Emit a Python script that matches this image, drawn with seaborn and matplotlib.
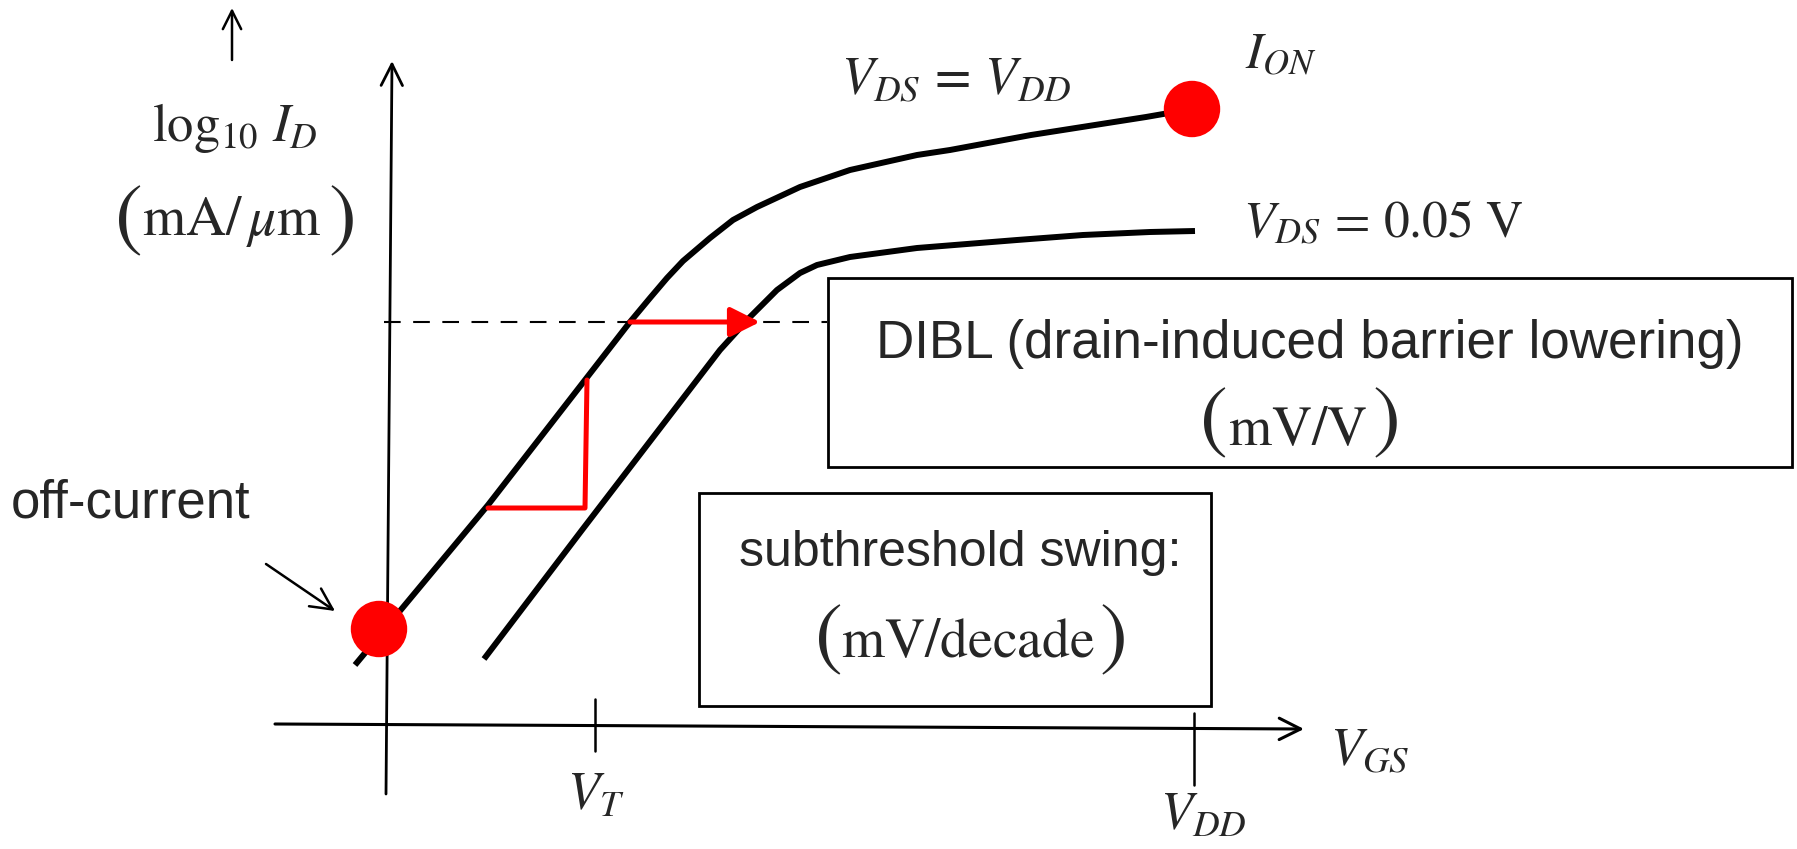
import matplotlib
matplotlib.use("Agg")
import matplotlib.pyplot as plt
from matplotlib.patches import Rectangle
import seaborn as sns

# curve points (picture pixel space, y grows downwards)
vgs_vdd = [355, 488, 585, 630, 650, 667, 683, 710, 733, 757, 800, 850, 917, 950, 1031, 1146, 1192]
logid_vdd = [665, 505, 380, 322, 298, 278, 261, 238, 220, 207, 187, 170, 155, 150, 135, 117, 109]

vgs_low = [484, 582, 720, 750, 777, 800, 817, 850, 917, 1017, 1083, 1150, 1195]
logid_low = [659, 530, 350, 317, 290, 273, 265, 257, 248, 240, 235, 232, 231]

# marked points: off-current and I_ON
dot_x = [379, 1192]
dot_y = [629, 109]

# subthreshold swing triangle and DIBL shift
swing_x = [488, 585, 587]
swing_y = [508, 508, 380]
dibl_y = 322
dibl_from, dibl_to = 630, 760

# tick positions on V_GS axis
vt_x = 595
vdd_x = 1194

sns.set_theme(style="white")
plt.rcParams["font.family"] = ["Liberation Sans", "DejaVu Sans"]
plt.rcParams["mathtext.fontset"] = "stix"

fig = plt.figure(figsize=(17.97, 8.49), dpi=100)
ax = fig.add_axes([0, 0, 1, 1])
ax.set_xlim(0, 1797)
ax.set_ylim(849, 0)
ax.axis("off")

arrow_kw = dict(color="black", mutation_scale=22, shrinkA=0, shrinkB=0)

# axes arrows
ax.annotate("", xy=(1304, 729), xytext=(275, 724),
            arrowprops=dict(arrowstyle="->,head_length=0.7,head_width=0.35", lw=2.2, **arrow_kw))
ax.annotate("", xy=(392, 61), xytext=(386, 794),
            arrowprops=dict(arrowstyle="->,head_length=0.7,head_width=0.35", lw=2.0, **arrow_kw))
ax.annotate("", xy=(232, 8), xytext=(232, 60),
            arrowprops=dict(arrowstyle="->,head_length=0.6,head_width=0.3", lw=1.8, **arrow_kw))

# ticks
ax.plot([vt_x, vt_x], [699, 751], color="black", lw=1.8)
ax.plot([vdd_x, vdd_x], [713, 785], color="black", lw=1.8)

# dashed reference line
ax.plot([384, 827], [dibl_y, dibl_y], color="black", lw=1.5, linestyle=(0, (8, 6)))

# I-V curves
for xs, ys in [(vgs_vdd, logid_vdd), (vgs_low, logid_low)]:
    sns.lineplot(x=xs, y=ys, sort=False, estimator=None, color="black", lw=4.3,
                 solid_joinstyle="round", solid_capstyle="butt", ax=ax)

# red marks
sns.lineplot(x=swing_x, y=swing_y, sort=False, estimator=None, color="#ff0000", lw=3.6, ax=ax)
ax.annotate("", xy=(dibl_to, dibl_y), xytext=(dibl_from, dibl_y),
            arrowprops=dict(arrowstyle="-|>,head_length=0.9,head_width=0.45", lw=3.6,
                            color="#ff0000", mutation_scale=20, shrinkA=0, shrinkB=0))
sns.scatterplot(x=dot_x, y=dot_y, s=1650, color="#ff0000", edgecolor="none", ax=ax, zorder=5)

# off-current pointer
ax.annotate("", xy=(335, 611), xytext=(266, 564),
            arrowprops=dict(arrowstyle="->,head_length=0.7,head_width=0.35", lw=1.8, **arrow_kw))

# boxes
ax.add_patch(Rectangle((828, 278), 964, 189, fill=False, ec="black", lw=2.0))
ax.add_patch(Rectangle((699, 493), 512, 213, fill=False, ec="black", lw=2.0))


def paren_text(left_x, right_x, mid_y, text_x, base_y, body):
    # large parentheses around a units label
    ax.text(left_x, mid_y, r"$($", fontsize=60, ha="center", va="center")
    ax.text(right_x, mid_y, r"$)$", fontsize=60, ha="center", va="center")
    ax.text(text_x, base_y, body, fontsize=40, ha="center", va="baseline")


# texts
ax.text(235, 128, r"$\log_{10}\, I_D$", fontsize=38, ha="center", va="center")
paren_text(128, 341, 219, 232, 235, r"$\mathrm{mA}/\,\mu\mathrm{m}$")
ax.text(11, 504, "off-current", fontsize=38, ha="left", va="center")
ax.text(956, 80, r"$V_{DS}\,=\,V_{DD}$", fontsize=38, ha="center", va="center")
ax.text(1245, 55, r"$I_{ON}$", fontsize=37, ha="left", va="center")
ax.text(1243, 224, r"$V_{DS}\,=\,0.05\ \mathrm{V}$", fontsize=37, ha="left", va="center")
ax.text(1310, 344, "DIBL (drain-induced barrier lowering)", fontsize=38.2, ha="center", va="center")
paren_text(1213, 1385, 421, 1298, 445, r"$\mathrm{mV/V}$")
ax.text(960, 553, "subthreshold swing:", fontsize=36, ha="center", va="center")
paren_text(828, 1112, 638, 968, 657, r"$\mathrm{mV/decade}$")
ax.text(596, 796, r"$V_T$", fontsize=38, ha="center", va="center")
ax.text(1203, 816, r"$V_{DD}$", fontsize=38, ha="center", va="center")
ax.text(1370, 751, r"$V_{GS}$", fontsize=38, ha="center", va="center")

fig.savefig("out.png", dpi=100)
